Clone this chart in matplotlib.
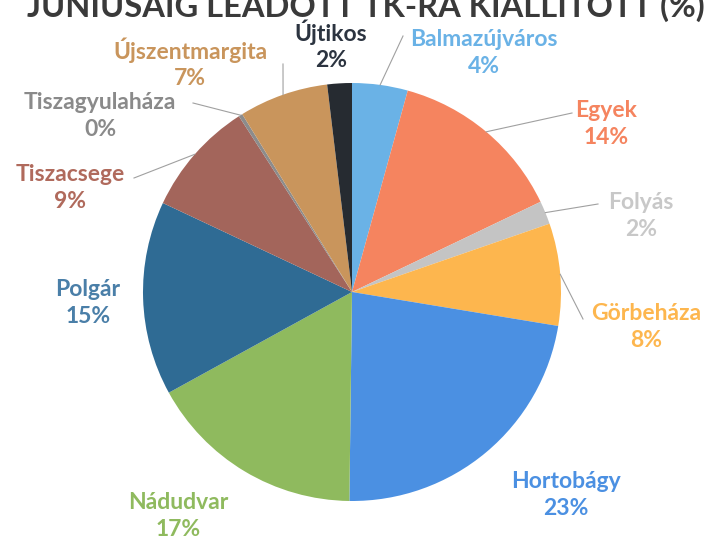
import matplotlib
matplotlib.use('Agg')
import matplotlib.pyplot as plt
import numpy as np

# adatok (órajárás szerint, 12 órától)
telepulesek = ['Balmazújváros', 'Egyek', 'Folyás', 'Görbeháza', 'Hortobágy',
               'Nádudvar', 'Polgár', 'Tiszacsege', 'Tiszagyulaháza',
               'Újszentmargita', 'Újtikos']
ertekek = [4.3, 13.6, 1.8, 7.9, 22.6, 16.8, 15.0, 8.9, 0.3, 6.9, 1.9]
szinek = ['#6ab2e6', '#f5845f', '#c4c4c4', '#fdb64e', '#4b90e2',
          '#8fba5e', '#2f6b94', '#a3655b', '#8c8c8c', '#c9955c', '#262b31']
cimke_szinek = ['#6ab2e6', '#f5845f', '#c8c8c8', '#fdb64e', '#4b90e2',
                '#8fba5e', '#4a7fa8', '#b06a5c', '#8a8a8a', '#c9955c', '#2c3440']

W, H = 711, 542
cx, cy, r = 352, 292, 209

# cimkek helye pixelben (x, y a kep tetejetol), es a vezeto vonal kezdete
cimke_hely = [(484, 53), (606, 124), (641, 216), (646, 327), (566, 495),
              (178, 516), (88, 303), (70, 188), (100, 116), (190, 63), (331, 45)]
vonal_kezdet = [(403, 36), (572, 113), (598, 204), (583, 319), None,
                None, None, (134, 178), (193, 103), (283, 64), None]

fig = plt.figure(figsize=(W / 100, H / 100), dpi=100)
ax = fig.add_axes([0, 0, 1, 1])

wedges, _ = ax.pie(ertekek, colors=szinek, startangle=90, counterclock=False,
                   center=(cx, H - cy), radius=r,
                   wedgeprops=dict(linewidth=0))
ax.set_xlim(0, W)
ax.set_ylim(0, H)
ax.set_aspect('equal')
ax.axis('off')

osszeg = sum(ertekek)
for i, w in enumerate(wedges):
    x, y = cimke_hely[i]
    szazalek = '%.0f%%' % (ertekek[i] / osszeg * 100)
    ax.text(x, H - y, telepulesek[i] + '\n' + szazalek, ha='center', va='center',
            color=cimke_szinek[i], fontsize=16.5, fontweight='bold',
            family='Lato', linespacing=1.3)
    if vonal_kezdet[i] is not None:
        th = np.deg2rad((w.theta1 + w.theta2) / 2)
        px = cx + r * np.cos(th)
        py = (H - cy) + r * np.sin(th)
        lx, ly = vonal_kezdet[i]
        ax.plot([lx, px], [H - ly, py], color='#a0a0a0', lw=0.8)

# cim - a kep tetejen levagva
fig.text(705 / W, (H - 17) / H, 'JÚNIUSÁIG LEADOTT TK-RA KIÁLLÍTOTT (%)',
         ha='right', va='baseline', fontsize=23.5, fontweight='bold',
         color='#3a3a3a', family='Lato')

fig.savefig('out.png', dpi=100)
